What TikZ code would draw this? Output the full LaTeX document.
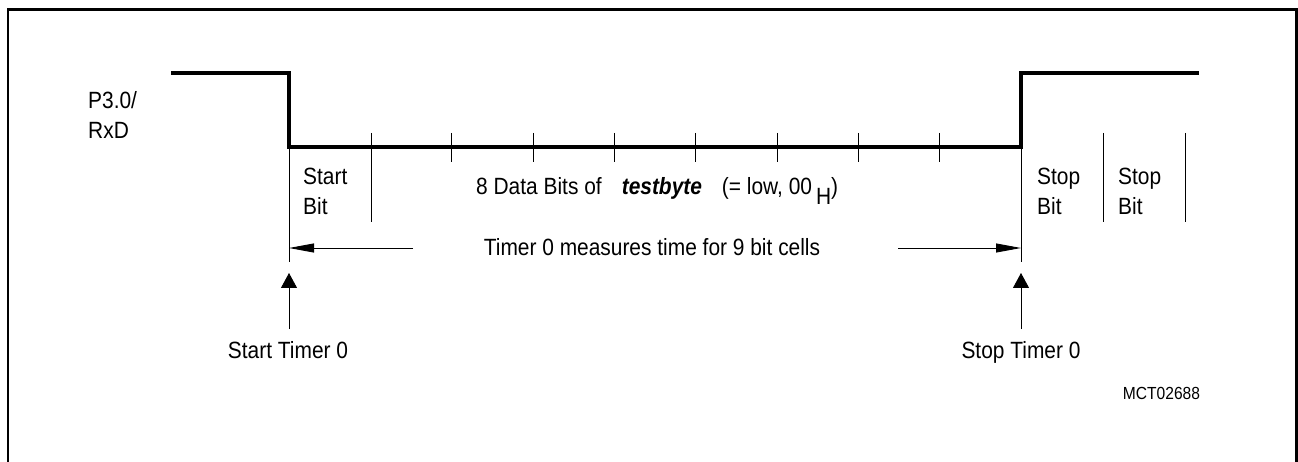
\documentclass[tikz,border=0pt]{standalone}
\usepackage{fontspec}
\setmainfont{Liberation Sans}[FakeStretch=0.89]
\usetikzlibrary{arrows.meta}
\begin{document}
\begin{tikzpicture}[x=1pt,y=-1pt,
  frame/.style={line width=2.6pt},
  signal/.style={line width=3.6pt,line join=miter},
  thin/.style={line width=0.9pt},
  harrow/.style={thin,-{Triangle[length=25pt,width=9pt]}},
  varrow/.style={thin,-{Triangle[length=15pt,width=16pt]}},
  lbl/.style={inner sep=0pt,font=\fontsize{23.5}{29.5}\selectfont,align=left},
  small/.style={inner sep=0pt,font=\fontsize{17.5}{20}\selectfont}]
\useasboundingbox (0,0) rectangle (1298,462);
% frame (open at bottom)
\draw[frame] (8,462) -- (8,9.5) -- (1296.7,9.5) -- (1296.7,462);
% signal
\coordinate (s0) at (171,73);
\coordinate (s1) at (289,73);
\coordinate (s2) at (289,147);
\coordinate (s3) at (1021,147);
\coordinate (s4) at (1021,73);
\coordinate (s5) at (1199,73);
\draw[signal] (s0) -- (s1) -- (s2) -- (s3) -- (s4) -- (s5);
% data bit ticks
\foreach \i in {2,...,8}{
  \draw[thin] ({289+\i*81.33},133) -- ({289+\i*81.33},162);
}
% bit cell separators
\foreach \x in {371,1103,1185}{
  \draw[thin] (\x,133) -- (\x,222);
}
% vertical markers
\coordinate (vlb) at (289,262);
\coordinate (vrb) at (1021,262);
\draw[thin] (s2) -- (vlb);
\draw[thin] (s3) -- (vrb);
% measuring arrows
\coordinate (la) at (413,248);
\coordinate (lt) at (289,248);
\coordinate (ra) at (898,248);
\coordinate (rt) at (1021,248);
\draw[harrow] (la) -- (lt);
\draw[harrow] (ra) -- (rt);
\node[lbl,anchor=center] (meas) at (652,247) {Timer 0 measures time for 9 bit cells};
% labels
\node[lbl,anchor=north west] (sig) at (88,91.5) {P3.0/\\RxD};
\node[lbl,anchor=north west] (startbit) at (303,168) {Start\\Bit};
\node[lbl,anchor=north west] (stop1) at (1037,168) {Stop\\Bit};
\node[lbl,anchor=north west] (stop2) at (1118,168) {Stop\\Bit};
\node[lbl,anchor=base west] (data) at (476,195) {8 Data Bits of\hspace{20pt}\textbf{\textit{testbyte}}\hspace{20pt}(= low, 00\hspace{4pt}\raisebox{-10pt}{H})};
% timer start / stop
\node[lbl,anchor=base] (tstart) at (288,358) {Start Timer 0};
\node[lbl,anchor=base] (tstop) at (1021,358) {Stop Timer 0};
\coordinate (ua) at (289,329);
\coordinate (ut) at (289,273);
\coordinate (ub) at (1021,329);
\coordinate (uc) at (1021,273);
\draw[varrow] (ua) -- (ut);
\draw[varrow] (ub) -- (uc);
\node[small,anchor=base] (code) at (1161.5,399) {MCT02688};
\end{tikzpicture}
\end{document}
